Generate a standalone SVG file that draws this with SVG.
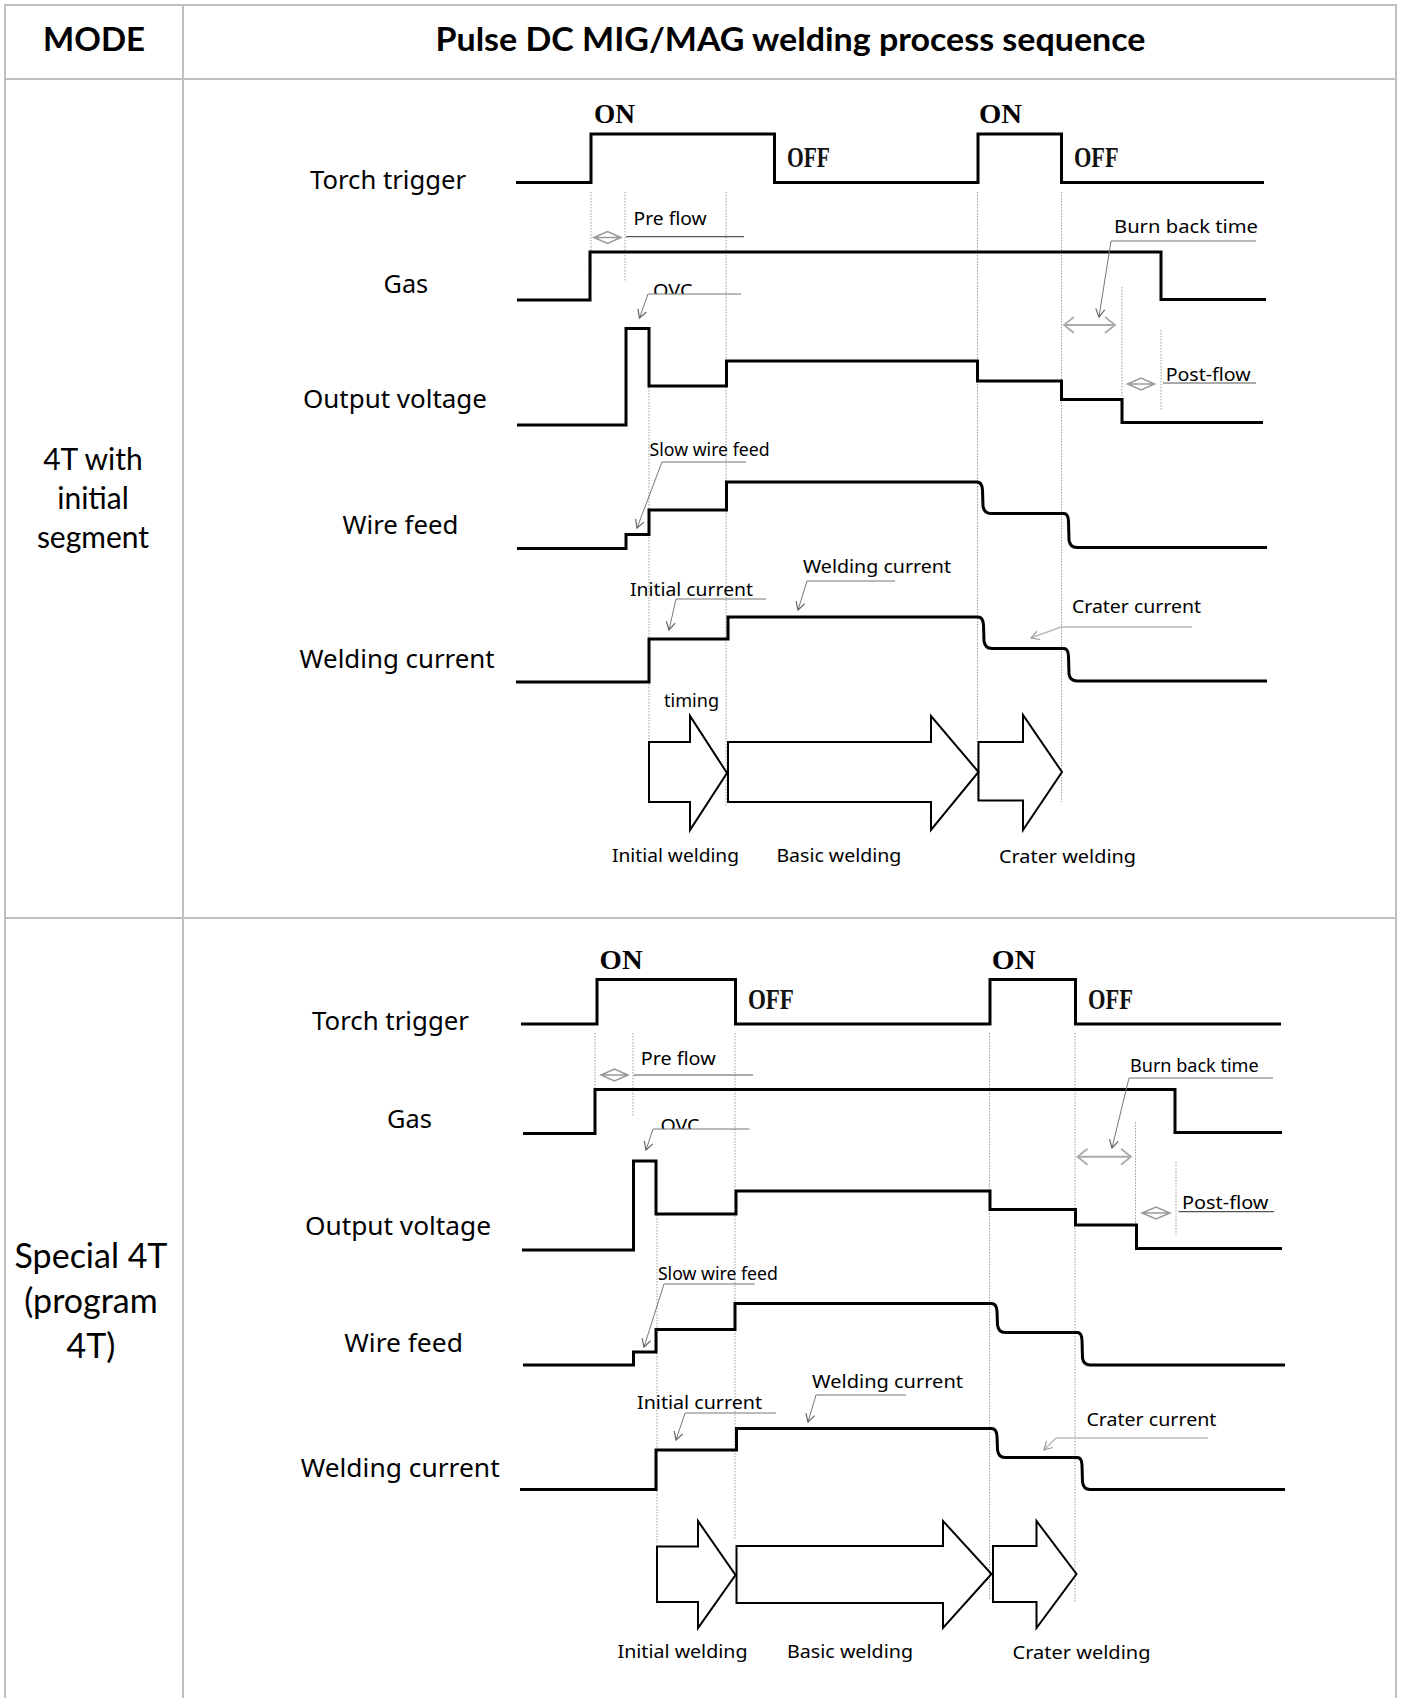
<svg xmlns="http://www.w3.org/2000/svg" width="1403" height="1698" viewBox="0 0 1403 1698">
<style>
.grid{stroke:#bfbfbf;stroke-width:2;fill:none}
.hdr{font-family:Lato,"Liberation Sans",sans-serif;font-weight:bold;font-size:33px;fill:#000}
.mode{font-family:Lato,"Liberation Sans",sans-serif;fill:#000;text-anchor:middle}
.sig{stroke:#000;stroke-width:3;fill:none;stroke-linejoin:miter}
.blk{stroke:#000;stroke-width:2;fill:none}
.dot{stroke:#9a9a9a;stroke-width:1;stroke-dasharray:1.5 1.5;fill:none}
.lead{stroke:#777;stroke-width:1;fill:none}
.leadl{stroke:#bbb;stroke-width:1.5;fill:none}
.ul{stroke:#555;stroke-width:1.2;fill:none}
.dia{stroke:#999;stroke-width:1.5;fill:none}
.lbl{font-family:"Noto Sans","Open Sans",sans-serif;font-size:26px;fill:#000}
.ann{font-family:"Noto Sans","Open Sans",sans-serif;font-size:18.5px;fill:#000}
.on{font-family:"Liberation Serif",serif;font-weight:bold;font-size:27px;fill:#000}
.off{font-family:"Liberation Serif",serif;font-weight:bold;font-size:30px;fill:#111}
</style>
<defs>
<marker id="v" markerUnits="userSpaceOnUse" markerWidth="14" markerHeight="14" refX="9" refY="5" orient="auto">
<path d="M1,0.5 L9,5 L1,9.5" fill="none" stroke="#666" stroke-width="1.2"/>
</marker>
<marker id="vl" markerUnits="userSpaceOnUse" markerWidth="14" markerHeight="14" refX="9" refY="5" orient="auto">
<path d="M1,0.5 L9,5 L1,9.5" fill="none" stroke="#999" stroke-width="1.2"/>
</marker>
<marker id="vg" markerUnits="userSpaceOnUse" markerWidth="16" markerHeight="18" refX="11" refY="9" orient="auto-start-reverse">
<path d="M1,1 L11,9 L1,17" fill="none" stroke="#aaa" stroke-width="1.8"/>
</marker>
<clipPath id="c1"><rect x="640" y="270" width="60" height="24"/></clipPath>
<clipPath id="c2"><rect x="650" y="1105" width="60" height="24"/></clipPath>
</defs>
<g id="table">
<polyline class="grid" points="5,1698 5,5 1396,5 1396,1698"/>
<line class="grid" x1="183" y1="5" x2="183" y2="1698"/>
<line class="grid" x1="5" y1="79" x2="1396" y2="79"/>
<line class="grid" x1="5" y1="918" x2="1396" y2="918"/>
</g>
<g id="header">
<text class="hdr" x="94" y="51" text-anchor="middle">MODE</text>
<text class="hdr" x="790.5" y="51" text-anchor="middle" textLength="710" lengthAdjust="spacingAndGlyphs">Pulse DC MIG/MAG welding process sequence</text>
</g>
<g id="mode-4t-initial" class="mode" font-size="30">
<text x="93" y="470">4T with</text>
<text x="93" y="509">initial</text>
<text x="93" y="548">segment</text>
</g>
<g id="mode-special-4t" class="mode" font-size="34">
<text x="91" y="1268">Special 4T</text>
<text x="91" y="1313">(program</text>
<text x="91" y="1358">4T)</text>
</g>

<!-- Diagram 1 -->
<g id="d1-guides">
<line class="dot" x1="591" y1="192" x2="591" y2="282"/>
<line class="dot" x1="625" y1="192" x2="625" y2="282"/>
<line class="dot" x1="649" y1="387" x2="649" y2="803"/>
<line class="dot" x1="726" y1="192" x2="726" y2="806"/>
<line class="dot" x1="977.5" y1="192" x2="977.5" y2="800"/>
<line class="dot" x1="1061.5" y1="192" x2="1061.5" y2="802"/>
<line class="dot" x1="1122" y1="287" x2="1122" y2="423"/>
<line class="dot" x1="1161" y1="330" x2="1161" y2="410"/>
</g>
<g id="d1-torch">
<text class="lbl" x="310" y="189" textLength="156" lengthAdjust="spacingAndGlyphs">Torch trigger</text>
<path class="sig" d="M516 182.5 H591 V134 H774.5 V182.5 H978 V134 H1061.5 V182.5 H1264"/>
<text class="on" x="594" y="123" textLength="41" lengthAdjust="spacingAndGlyphs">ON</text>
<text class="on" x="979" y="123" textLength="43" lengthAdjust="spacingAndGlyphs">ON</text>
<text class="off" x="787" y="167" textLength="43" lengthAdjust="spacingAndGlyphs">OFF</text>
<text class="off" x="1074" y="167" textLength="44.6" lengthAdjust="spacingAndGlyphs">OFF</text>
</g>
<g id="d1-gas">
<text class="lbl" x="383.6" y="293" textLength="44.6" lengthAdjust="spacingAndGlyphs">Gas</text>
<path class="sig" d="M517 300 H590 V252 H1161 V299.5 H1266"/>
</g>
<g id="d1-voltage">
<text class="lbl" x="303" y="408" textLength="184" lengthAdjust="spacingAndGlyphs">Output voltage</text>
<path class="sig" d="M517 425 H626 V328.5 H649 V386 H726.5 V361 H977.5 V381 H1061.5 V399.5 H1122 V422.5 H1263"/>
</g>
<g id="d1-wire">
<text class="lbl" x="342.5" y="534" textLength="116" lengthAdjust="spacingAndGlyphs">Wire feed</text>
<path class="sig" d="M517 548.5 H626 V534.5 H649 V510 H726.5 V482 H977 Q982 482 982.5 490 L983 506 Q984 513.5 991 513.5 H1064 Q1068 513.5 1068.5 521 L1069 540 Q1070 547.5 1077 547.5 H1267"/>
</g>
<g id="d1-current">
<text class="lbl" x="299.6" y="668.3" textLength="195" lengthAdjust="spacingAndGlyphs">Welding current</text>
<path class="sig" d="M516 682 H649 V639 H728 V617 H978 Q983 617 983.5 625 L984 641 Q985 648.5 992 648.5 H1064 Q1068 648.5 1068.5 656 L1069 674 Q1070 681 1077 681 H1267"/>
</g>
<g id="d1-phases">
<path class="blk" d="M649 742 H690 V716 L727 773 L690 830 V802 H649 Z"/>
<path class="blk" d="M728 742 H931 V716 L978.5 772 L931 830 V802 H728 Z"/>
<path class="blk" d="M978.5 742 H1023 V715 L1062 772 L1023 830 V800.5 H978.5 Z"/>
<text class="ann" x="664" y="706.7" font-size="19" textLength="55" lengthAdjust="spacingAndGlyphs">timing</text>
<text class="ann" x="612" y="861.7" font-size="19" textLength="127" lengthAdjust="spacingAndGlyphs">Initial welding</text>
<text class="ann" x="776.4" y="861.7" font-size="19" textLength="125" lengthAdjust="spacingAndGlyphs">Basic welding</text>
<text class="ann" x="999" y="862.7" font-size="19" textLength="137" lengthAdjust="spacingAndGlyphs">Crater welding</text>
</g>
<g id="d1-annotations">
<text class="ann" x="633.6" y="225" textLength="73" lengthAdjust="spacingAndGlyphs">Pre flow</text>
<text class="ann" x="653" y="297" font-size="18" textLength="39.5" lengthAdjust="spacingAndGlyphs" clip-path="url(#c1)">OVC</text>
<text class="ann" x="1114" y="232.7" font-size="20" fill="#555" textLength="144" lengthAdjust="spacingAndGlyphs">Burn back time</text>
<text class="ann" x="1165.7" y="380.7" font-size="19" textLength="85" lengthAdjust="spacingAndGlyphs">Post-flow</text>
<text class="ann" x="649.6" y="456" font-size="18" textLength="120" lengthAdjust="spacingAndGlyphs">Slow wire feed</text>
<text class="ann" x="630" y="595.7" textLength="123" lengthAdjust="spacingAndGlyphs">Initial current</text>
<text class="ann" x="803" y="572.7" font-size="19" textLength="148" lengthAdjust="spacingAndGlyphs">Welding current</text>
<text class="ann" x="1072" y="612.7" font-size="19" fill="#222" textLength="129" lengthAdjust="spacingAndGlyphs">Crater current</text>
</g>

<!-- Diagram 2 -->
<g id="d2-guides">
<line class="dot" x1="595" y1="1033" x2="595" y2="1117"/>
<line class="dot" x1="633" y1="1033" x2="633" y2="1117"/>
<line class="dot" x1="657" y1="1215" x2="657" y2="1543"/>
<line class="dot" x1="735" y1="1033" x2="735" y2="1540"/>
<line class="dot" x1="989.5" y1="1033" x2="989.5" y2="1600"/>
<line class="dot" x1="1075" y1="1033" x2="1075" y2="1602"/>
<line class="dot" x1="1135.5" y1="1122" x2="1135.5" y2="1248"/>
<line class="dot" x1="1176" y1="1162" x2="1176" y2="1235"/>
</g>
<g id="d2-torch">
<text class="lbl" x="312" y="1030" textLength="157" lengthAdjust="spacingAndGlyphs">Torch trigger</text>
<path class="sig" d="M521 1024 H597 V979.5 H735.5 V1024 H990 V979.5 H1075.5 V1024 H1281"/>
<text class="on" x="599.6" y="969.3" font-size="28" textLength="43" lengthAdjust="spacingAndGlyphs">ON</text>
<text class="on" x="991.8" y="969.3" font-size="28" textLength="44" lengthAdjust="spacingAndGlyphs">ON</text>
<text class="off" x="747.9" y="1009.3" font-size="29" textLength="46" lengthAdjust="spacingAndGlyphs">OFF</text>
<text class="off" x="1088" y="1009.3" font-size="29" textLength="45" lengthAdjust="spacingAndGlyphs">OFF</text>
</g>
<g id="d2-gas">
<text class="lbl" x="387" y="1128.3" textLength="44.8" lengthAdjust="spacingAndGlyphs">Gas</text>
<path class="sig" d="M523 1133.5 H595 V1089.5 H1175 V1132.5 H1282"/>
</g>
<g id="d2-voltage">
<text class="lbl" x="305" y="1235" textLength="186" lengthAdjust="spacingAndGlyphs">Output voltage</text>
<path class="sig" d="M522 1250 H633.5 V1161 H656 V1214 H736 V1191 H990 V1209.5 H1075.5 V1225 H1136.5 V1248.5 H1282"/>
</g>
<g id="d2-wire">
<text class="lbl" x="344.3" y="1351.7" textLength="118.6" lengthAdjust="spacingAndGlyphs">Wire feed</text>
<path class="sig" d="M523 1365 H633.5 V1352 H656 V1329.5 H735 V1303.5 H991.5 Q996.5 1303.5 997 1311 L997.5 1325 Q998.5 1332.5 1005 1332.5 H1077.5 Q1081.5 1332.5 1082 1340 L1082.5 1358 Q1083.5 1365 1090 1365 H1285"/>
</g>
<g id="d2-current">
<text class="lbl" x="300.7" y="1477.3" textLength="199" lengthAdjust="spacingAndGlyphs">Welding current</text>
<path class="sig" d="M520 1489.5 H656 V1450 H736.5 V1428.5 H991.5 Q996.5 1428.5 997 1436 L997.5 1450 Q998.5 1457.5 1005 1457.5 H1077.5 Q1081.5 1457.5 1082 1465 L1082.5 1482 Q1083.5 1489.5 1090 1489.5 H1285"/>
</g>
<g id="d2-phases">
<path class="blk" d="M657 1546.5 H698 V1521 L735.5 1575 L698 1628 V1602 H657 Z"/>
<path class="blk" d="M736.5 1546 H943 V1521 L991.5 1574 L943 1628 V1603 H736.5 Z"/>
<path class="blk" d="M993 1546 H1036.5 V1521 L1076.5 1574 L1036.5 1628 V1602 H993 Z"/>
<text class="ann" x="617.5" y="1658.3" font-size="19" textLength="130" lengthAdjust="spacingAndGlyphs">Initial welding</text>
<text class="ann" x="787" y="1658.3" font-size="19" textLength="126" lengthAdjust="spacingAndGlyphs">Basic welding</text>
<text class="ann" x="1012.5" y="1659.3" font-size="19" textLength="138" lengthAdjust="spacingAndGlyphs">Crater welding</text>
</g>
<g id="d2-annotations">
<text class="ann" x="640.7" y="1065" textLength="75" lengthAdjust="spacingAndGlyphs">Pre flow</text>
<text class="ann" x="660.4" y="1132" font-size="18" textLength="39" lengthAdjust="spacingAndGlyphs" clip-path="url(#c2)">OVC</text>
<text class="ann" x="1130" y="1072.3" font-size="18" fill="#555" textLength="128.6" lengthAdjust="spacingAndGlyphs">Burn back time</text>
<text class="ann" x="1182" y="1209.3" font-size="19" textLength="86.4" lengthAdjust="spacingAndGlyphs">Post-flow</text>
<text class="ann" x="657.9" y="1280" font-size="18" textLength="120" lengthAdjust="spacingAndGlyphs">Slow wire feed</text>
<text class="ann" x="637" y="1409" textLength="125" lengthAdjust="spacingAndGlyphs">Initial current</text>
<text class="ann" x="812" y="1388.3" font-size="19" textLength="151" lengthAdjust="spacingAndGlyphs">Welding current</text>
<text class="ann" x="1086.4" y="1426" font-size="19" fill="#222" textLength="130" lengthAdjust="spacingAndGlyphs">Crater current</text>
</g>

<g id="connectors">
<!-- diagram 1 -->
<polyline class="ul" points="626,236.7 744,236.7"/>
<path class="dia" d="M594 237.5 L607.5 231.5 L621 237.5 L607.5 243.5 Z M594 237.5 H621"/>
<polyline class="lead" points="741,294 648,294 639.5,318" marker-end="url(#v)"/>
<polyline class="lead" points="1256,241 1111,241 1099,317" marker-end="url(#v)"/>
<line stroke="#aaa" stroke-width="2" x1="1064" y1="325" x2="1115" y2="325" marker-start="url(#vg)" marker-end="url(#vg)"/>
<polyline class="ul" points="1163,383 1256,383"/>
<path class="dia" d="M1127.5 384 L1141 378 L1154.5 384 L1141 390 Z M1127.5 384 H1154.5"/>
<polyline class="lead" points="746,462 662,462 637,528" marker-end="url(#v)"/>
<polyline class="lead" points="766,599 676,599 669,630" marker-end="url(#v)"/>
<polyline class="lead" points="895,581 807,581 798,610" marker-end="url(#v)"/>
<polyline class="leadl" points="1192,627 1061,627 1031,638" marker-end="url(#vl)"/>
<!-- diagram 2 -->
<polyline class="ul" points="633.6,1075 753,1075"/>
<path class="dia" d="M601 1075 L614.5 1069 L628 1075 L614.5 1081 Z M601 1075 H628"/>
<polyline class="lead" points="749.6,1129 653,1129 646,1150" marker-end="url(#v)"/>
<polyline class="lead" points="1273,1078 1129,1078 1112,1148" marker-end="url(#v)"/>
<line stroke="#aaa" stroke-width="2" x1="1077.5" y1="1156.7" x2="1131" y2="1156.7" marker-start="url(#vg)" marker-end="url(#vg)"/>
<polyline class="ul" points="1178.6,1211.7 1274,1211.7"/>
<path class="dia" d="M1142 1213 L1156 1207 L1170 1213 L1156 1219 Z M1142 1213 H1170"/>
<polyline class="lead" points="755,1284 664,1284 644,1347" marker-end="url(#v)"/>
<polyline class="lead" points="776,1413 685,1413 676,1440" marker-end="url(#v)"/>
<polyline class="lead" points="906,1395 816,1395 808,1422" marker-end="url(#v)"/>
<polyline class="leadl" points="1208,1438 1056,1438 1044,1450" marker-end="url(#vl)"/>
</g>
</svg>
